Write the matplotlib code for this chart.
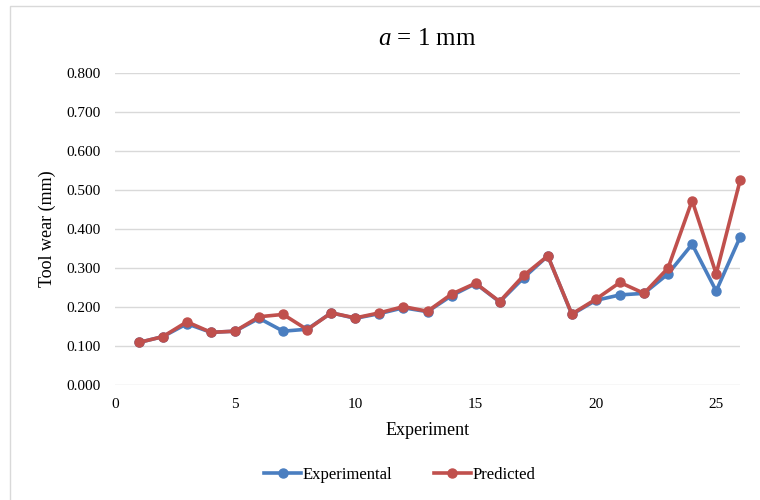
import matplotlib
matplotlib.use("Agg")
import matplotlib.pyplot as plt
from matplotlib.patches import Rectangle

# Data
experiments = list(range(1, 27))
experimental = [0.109, 0.124, 0.157, 0.135, 0.138, 0.171, 0.138, 0.143, 0.185, 0.171,
                0.183, 0.198, 0.188, 0.229, 0.260, 0.213, 0.275, 0.331, 0.181, 0.217,
                0.231, 0.235, 0.285, 0.361, 0.241, 0.380]
predicted = [0.109, 0.124, 0.162, 0.135, 0.138, 0.175, 0.181, 0.142, 0.185, 0.172,
             0.185, 0.201, 0.189, 0.233, 0.261, 0.214, 0.281, 0.331, 0.182, 0.220,
             0.263, 0.235, 0.300, 0.473, 0.285, 0.526]
y_ticks = [0.0, 0.1, 0.2, 0.3, 0.4, 0.5, 0.6, 0.7, 0.8]
x_ticks = [0, 5, 10, 15, 20, 25]

serif = "Liberation Serif"
plt.rcParams["font.family"] = serif
plt.rcParams["mathtext.fontset"] = "custom"
plt.rcParams["mathtext.it"] = serif + ":italic"
plt.rcParams["mathtext.rm"] = serif

fig = plt.figure(figsize=(7.6, 5.0), dpi=100)
ax = fig.add_axes([0.151, 0.23, 0.823, 0.624])

# light frame around chart area
fig.patches.append(Rectangle((10 / 760, -0.01), 1.0, 1 - 6 / 500 + 0.01,
                             transform=fig.transFigure, fill=False,
                             edgecolor="#d9d9d9", linewidth=1.0))

blue = "#4a7ec0"
red = "#c0504d"
ax.plot(experiments, experimental, color=blue, lw=2.6, marker="o", ms=6.5,
        label="Experimental", zorder=3, clip_on=False)
ax.plot(experiments, predicted, color=red, lw=2.6, marker="o", ms=6.5,
        label="Predicted", zorder=4, clip_on=False)

ax.set_xlim(0, 26)
ax.set_ylim(0, 0.8)
ax.set_xticks(x_ticks)
ax.set_yticks(y_ticks)
ax.set_yticklabels([f"{v:.3f}" for v in y_ticks])
ax.tick_params(axis="y", length=0, labelsize=11, pad=10)
ax.tick_params(axis="x", length=0, labelsize=11, pad=9)
ax.grid(axis="y", color="#d9d9d9", lw=1.0)
ax.set_axisbelow(True)
for s in ax.spines.values():
    s.set_visible(False)

ax.set_xlabel("Experiment", fontsize=13, labelpad=8)
ax.set_ylabel("Tool wear (mm)", fontsize=13, labelpad=8)
ax.set_title(r"$a$ = 1 mm", fontsize=18, pad=20)

fig.legend(loc="center", bbox_to_anchor=(0.526, 0.05), ncol=2, frameon=False,
           fontsize=12, handlelength=2.2, handletextpad=0.1, columnspacing=2.5)

fig.savefig("out.png", dpi=100)
